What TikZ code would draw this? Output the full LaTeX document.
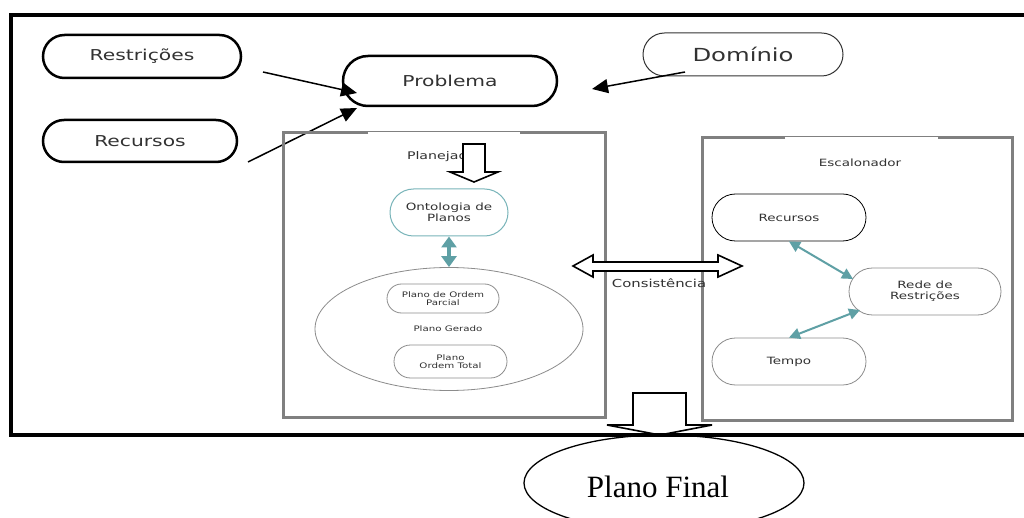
\documentclass[tikz,border=0pt]{standalone}
\usepackage{fontspec}
\setmainfont{Liberation Serif}
\newfontfamily\dv{DejaVu Sans}
\usetikzlibrary{shapes.misc,shapes.geometric,arrows.meta}
\newcommand{\sx}[1]{\scalebox{1.35}[1]{#1}}
\definecolor{tealA}{RGB}{95,160,165}
\definecolor{tealB}{RGB}{120,180,185}
\definecolor{txtgray}{RGB}{50,50,50}
\definecolor{boxgray}{RGB}{128,128,128}
\definecolor{thingray}{RGB}{140,140,140}
\begin{document}
\begin{tikzpicture}[x=1pt,y=-1pt,
  pill/.style={rounded rectangle, inner sep=0pt, text=txtgray, align=center},
  bigpill/.style={pill, draw=black, line width=2.5pt, font=\dv\fontsize{15}{18}\selectfont},
  smallpill/.style={pill, draw=thingray, line width=0.8pt, font=\dv\fontsize{10}{11}\selectfont},
  tinypill/.style={pill, draw=thingray, line width=0.8pt, font=\dv\fontsize{7.6}{8.5}\selectfont},
  label/.style={inner sep=0pt, text=txtgray, font=\dv\fontsize{10}{11}\selectfont},
  frame/.style={draw=boxgray, line width=3pt},
  hollow/.style={draw=black, fill=white, line width=1.6pt, line join=miter},
  blackarrow/.style={draw=black, line width=1.5pt, -{Triangle[length=16pt,width=14pt]}},
  tealarrow/.style={draw=tealA, line width=2pt, {Triangle[length=11pt,width=11pt]}-{Triangle[length=11pt,width=11pt]}}
]
\useasboundingbox (0,0) rectangle (1024,518);
\clip (0,0) rectangle (1024,518);
\fill[white] (0,0) rectangle (1024,518);

% top nodes
\node[bigpill, minimum width=198pt, minimum height=43pt] (restr) at (142,56.5) {\sx{Restrições}};
\node[bigpill, minimum width=194pt, minimum height=42pt] (recur) at (140,141) {\sx{Recursos}};
\node[bigpill, minimum width=214pt, minimum height=50pt] (prob) at (450,81) {\sx{Problema}};
\node[pill, draw=black!80, line width=1pt, minimum width=200pt, minimum height=43pt,
      font=\dv\fontsize{18}{20}\selectfont] (dom) at (743,54.5) {\sx{Domínio}};

\coordinate (a1s) at (263,72);
\coordinate (a1e) at (357,93);
\coordinate (a2s) at (248,162);
\coordinate (a2e) at (357,108);
\coordinate (a3s) at (685,72);
\coordinate (a3e) at (592,89);
\draw[blackarrow] (a1s) -- (a1e);
\draw[blackarrow] (a2s) -- (a2e);
\draw[blackarrow] (a3s) -- (a3e);

% Planejador box
\draw[frame] (368,133) -- (283,133) -- (283,417) -- (605,417) -- (605,133) -- (520,133);
\draw[draw=boxgray, line width=1pt] (368,131.5) -- (520,131.5);
\node[label, font=\dv\fontsize{10.5}{12}\selectfont] (plantxt) at (444.5,157) {\sx{Planejador}};
\draw[hollow] (463,144) -- (485,144) -- (485,172) -- (498,172) -- (474,182) -- (450,172) -- (463,172) -- cycle;

\node[pill, draw=tealB, line width=1pt, minimum width=118pt, minimum height=47pt,
      font=\dv\fontsize{10}{11}\selectfont] (onto) at (449,212.5) {\sx{Ontologia de}\\\sx{Planos}};
\node[ellipse, draw=thingray, line width=0.8pt, minimum width=268pt, minimum height=123pt, inner sep=0pt] (gerado) at (449,329) {};
\node[label, font=\dv\fontsize{7.6}{8.5}\selectfont] (geradotxt) at (448,329) {\sx{Plano Gerado}};
\node[tinypill, minimum width=112pt, minimum height=29pt] (parcial) at (443,298.5) {\sx{Plano de Ordem}\\\sx{Parcial}};
\node[tinypill, minimum width=113pt, minimum height=33pt] (total) at (450.5,361.5) {\sx{Plano}\\\sx{Ordem Total}};
\draw[draw=tealA, line width=4pt, {Triangle[length=11pt,width=15pt]}-{Triangle[length=11pt,width=15pt]}] (onto.south) -- (gerado.north);

% Escalonador box
\draw[frame] (785,138) -- (702,138) -- (702,420) -- (1012,420) -- (1012,138) -- (938,138);
\draw[draw=boxgray, line width=1pt] (785,136.5) -- (938,136.5);
\node[label] (esctxt) at (860,163) {\sx{Escalonador}};
\node[smallpill, draw=black, minimum width=154pt, minimum height=47pt] (recR) at (789,217.5) {\sx{Recursos}};
\node[smallpill, minimum width=152pt, minimum height=47pt] (rede) at (925,291.5) {\sx{Rede de}\\\sx{Restrições}};
\node[smallpill, minimum width=154pt, minimum height=47pt] (tempo) at (789,361.5) {\sx{Tempo}};
\coordinate (r1) at (853,279);
\coordinate (r2) at (860,310);
\draw[tealarrow] (recR.south) -- (r1);
\draw[tealarrow] (r2) -- (tempo.north);

% Consistencia double hollow arrow
\draw[hollow] (573,266) -- (593,255) -- (593,262) -- (718,262) -- (718,255) -- (742,266)
  -- (718,277) -- (718,271) -- (593,271) -- (593,277) -- cycle;
\node[label, font=\dv\fontsize{11}{12}\selectfont] (cons) at (659,283) {\sx{Consistência}};

% bottom arrow and outer frame
\draw[hollow] (633,393) -- (686,393) -- (686,425) -- (712,425) -- (660,435) -- (607,425) -- (633,425) -- cycle;
\draw[black, line width=3.5pt] (1040,435) -- (11,435) -- (11,15) -- (1040,15);

% Plano Final
\node[ellipse, draw=black, line width=1.3pt, minimum width=280pt, minimum height=96pt, inner sep=0pt] (final) at (664,483) {};
\node[inner sep=0pt, anchor=base, font=\fontsize{31}{34}\selectfont] (finaltxt) at (658,497) {Plano Final};
\end{tikzpicture}
\end{document}
